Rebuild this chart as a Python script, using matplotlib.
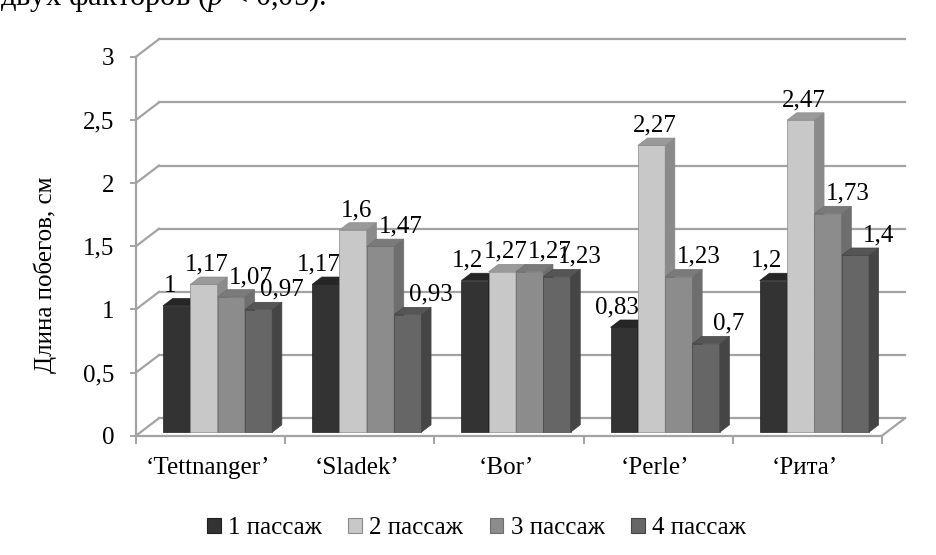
import numpy as np
import matplotlib
matplotlib.use("Agg")
import matplotlib.pyplot as plt
from matplotlib.patches import Polygon, Patch

plt.rcParams['font.family'] = ['Liberation Serif', 'DejaVu Serif']
plt.rcParams['mathtext.fontset'] = 'custom'
plt.rcParams['mathtext.rm'] = 'Liberation Serif'
plt.rcParams['mathtext.it'] = 'Liberation Serif:italic'

# данные
sorts = ['‘Tettnanger’', '‘Sladek’', '‘Bor’', '‘Perle’', '‘Рита’']
series = ['1 пассаж', '2 пассаж', '3 пассаж', '4 пассаж']
pass1 = [1.0, 1.17, 1.2, 0.83, 1.2]
pass2 = [1.17, 1.6, 1.27, 2.27, 2.47]
pass3 = [1.07, 1.47, 1.27, 1.23, 1.73]
pass4 = [0.97, 0.93, 1.23, 0.7, 1.4]
yticks = [0, 0.5, 1, 1.5, 2, 2.5, 3]

values = [pass1, pass2, pass3, pass4]
front = ['#333333', '#c8c8c8', '#8c8c8c', '#666666']
top = ['#262626', '#9a9a9a', '#7a7a7a', '#555555']
side = ['#1f1f1f', '#8a8a8a', '#6e6e6e', '#454545']

W, H = 937, 555
fig = plt.figure(figsize=(W / 100, H / 100), dpi=100)
# передняя плоскость: x 0..5 (категории), y 0..3
x0px, x1px, y0px, y1px = 136, 882, 435.7, 56.7
ax = fig.add_axes([x0px / W, (H - y0px) / H, (x1px - x0px) / W, (y0px - y1px) / H])
ax.set_xlim(0, 5)
ax.set_ylim(0, 3)

# глубина "3D" в единицах данных
DX = 23 / ((x1px - x0px) / 5)
DY = 17.5 / ((y0px - y1px) / 3)
grid_c = '#a3a3a3'

# задняя стенка и боковые линии
for v in yticks:
    ax.plot([DX, 5 + DX], [v + DY, v + DY], color=grid_c, lw=1.6, clip_on=False, zorder=1)
    ax.plot([0, DX], [v, v + DY], color=grid_c, lw=1.6, clip_on=False, zorder=1)
ax.plot([5, 5 + DX], [0, DY], color=grid_c, lw=1.6, clip_on=False, zorder=1)

# оси
for s in ['top', 'right']:
    ax.spines[s].set_visible(False)
for s in ['left', 'bottom']:
    ax.spines[s].set_color(grid_c)
    ax.spines[s].set_linewidth(1.6)
ax.set_yticks(yticks)
ax.set_yticklabels([('%g' % v).replace('.', ',') for v in yticks])
ax.tick_params(axis='y', direction='out', length=4.5, width=1.4, color=grid_c,
               labelsize=18, pad=11)
ax.set_xticks(np.arange(6))
ax.set_xticklabels([])
ax.set_xticks(np.arange(5) + 0.48, minor=True)
ax.set_xticklabels(sorts, minor=True)
ax.tick_params(axis='x', which='major', direction='out', length=6, width=1.4, color=grid_c)
ax.tick_params(axis='x', which='minor', length=0, labelsize=18, pad=15)

# столбцы
bw = 0.183
start = 0.15
f = 0.2      # смещение передней грани вглубь
d = 0.42     # глубина столбца
lab_dx = [-7, 3, 20, 23]
px_x = (x1px - x0px) / 5
px_y = (y0px - y1px) / 3
for s, vals in enumerate(values):
    for i, v in enumerate(vals):
        xl = i + start + s * bw + f * DX
        yb = f * DY
        ax.bar(xl, v, width=bw, bottom=yb, align='edge', color=front[s],
               edgecolor=side[s], linewidth=0.5, zorder=3 + s, clip_on=False)
        xr = xl + bw
        ax.add_patch(Polygon([(xr, yb), (xr + d * DX, yb + d * DY),
                              (xr + d * DX, yb + v + d * DY), (xr, yb + v)],
                             closed=True, facecolor=side[s], edgecolor=side[s],
                             lw=0.5, zorder=3 + s, clip_on=False))
        ax.add_patch(Polygon([(xl, yb + v), (xr, yb + v),
                              (xr + d * DX, yb + v + d * DY), (xl + d * DX, yb + v + d * DY)],
                             closed=True, facecolor=top[s], edgecolor=side[s],
                             lw=0.5, zorder=3 + s, clip_on=False))
        txt = ('%g' % v).replace('.', ',')
        ax.text(xl + bw / 2 + lab_dx[s] / px_x, yb + v + 14 / px_y, txt,
                ha='center', va='baseline', fontsize=18, zorder=10, clip_on=False)

# подпись оси
fig.text(45 / W, 1 - 275 / H, 'Длина побегов, см', rotation=90,
         ha='center', va='center', fontsize=18)

# строка текста над диаграммой
fig.text(0.0, 1 - 5 / H, r'двух факторов ($p$ < 0,05).', ha='left', va='baseline',
         fontsize=22)

# легенда
handles = [Patch(facecolor=front[s], edgecolor=side[s], linewidth=0.8) for s in range(4)]
fig.legend(handles, series, loc='center', bbox_to_anchor=(476.5 / W, 1 - 528 / H),
           ncol=4, frameon=False, fontsize=18, handlelength=0.55, handleheight=0.55,
           handletextpad=0.3, columnspacing=1.05, borderpad=0)

fig.savefig('out.png', dpi=100, facecolor='white')
